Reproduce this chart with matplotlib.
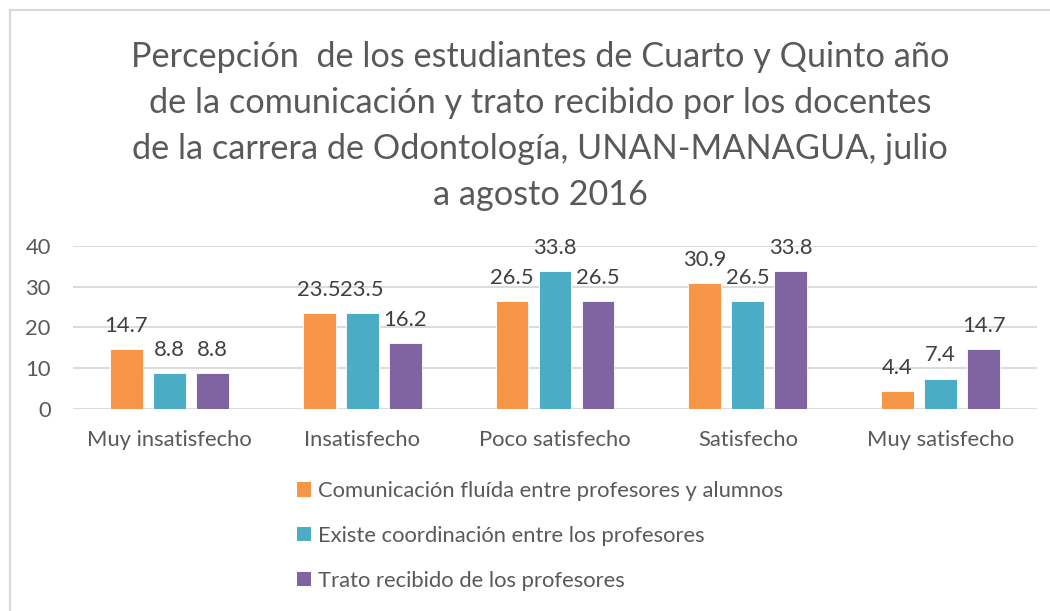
import numpy as np
import matplotlib.pyplot as plt
from matplotlib.patches import Patch
from matplotlib.lines import Line2D

plt.rcParams["font.family"] = ["Lato", "DejaVu Sans"]

categories = ["Muy insatisfecho", "Insatisfecho", "Poco satisfecho", "Satisfecho", "Muy satisfecho"]
series_names = [
    "Comunicación fluída entre profesores y alumnos",
    "Existe coordinación entre los profesores",
    "Trato recibido de los profesores",
]
comunicacion = [14.7, 23.5, 26.5, 30.9, 4.4]
coordinacion = [8.8, 23.5, 33.8, 26.5, 7.4]
trato = [8.8, 16.2, 26.5, 33.8, 14.7]
colors = ["#F79646", "#4BACC6", "#8064A2"]
title = ("Percepción  de los estudiantes de Cuarto y Quinto año\n"
         "de la comunicación y trato recibido por los docentes\n"
         "de la carrera de Odontología, UNAN-MANAGUA, julio\n"
         "a agosto 2016")

text_color = "#595959"
grid_color = "#D9D9D9"
fs = 15.8

fig = plt.figure(figsize=(10.5, 6.11), dpi=100)
ax = fig.add_axes([73 / 1050, 1 - 409 / 611, (1037 - 73) / 1050, (409 - 246) / 611])

x = np.arange(len(categories))
width = 0.171
step = 0.223
for i, (vals, c) in enumerate(zip([comunicacion, coordinacion, trato], colors)):
    pos = x + (i - 1) * step
    ax.bar(pos, vals, width, color=c, edgecolor="white", linewidth=0.6, zorder=3)
    for px, v in zip(pos, vals):
        ax.annotate(f"{v:g}", (px, v), xytext=(0, 12.5), textcoords="offset points",
                    ha="center", va="baseline", fontsize=fs, color="#404040")

ax.set_xlim(-0.5, len(categories) - 0.5)
ax.set_ylim(0, 40)
ax.set_yticks([0, 10, 20, 30, 40])
ax.yaxis.grid(True, color=grid_color, linewidth=1.3, zorder=0)
ax.set_axisbelow(True)
for s in ax.spines.values():
    s.set_visible(False)
ax.set_xticks(x)
ax.set_xticklabels(categories)
ax.tick_params(axis="both", length=0, labelsize=fs, colors=text_color)
ax.tick_params(axis="x", pad=15)
ax.tick_params(axis="y", pad=16)

fig.text(540 / 1050, 1 - 41 / 611, title, ha="center", va="top", fontsize=24.7,
         color=text_color, linespacing=1.54)

handles = [Patch(facecolor=c, edgecolor="none") for c in colors]
leg = fig.legend(handles, series_names, loc="upper left",
                 bbox_to_anchor=(297 / 1050, 1 - 481 / 611), frameon=False,
                 fontsize=fs, handlelength=0.65, handleheight=0.65,
                 handletextpad=0.3, labelspacing=1.13, borderaxespad=0, borderpad=0)
for t in leg.get_texts():
    t.set_color(text_color)

# chart border (left and top edges visible)
fig.add_artist(Line2D([10 / 1050, 10 / 1050], [0, 1 - 10 / 611], transform=fig.transFigure,
                      color=grid_color, linewidth=1.5))
fig.add_artist(Line2D([10 / 1050, 1], [1 - 10 / 611, 1 - 10 / 611], transform=fig.transFigure,
                      color=grid_color, linewidth=1.5))

fig.savefig("out.png", dpi=100)
